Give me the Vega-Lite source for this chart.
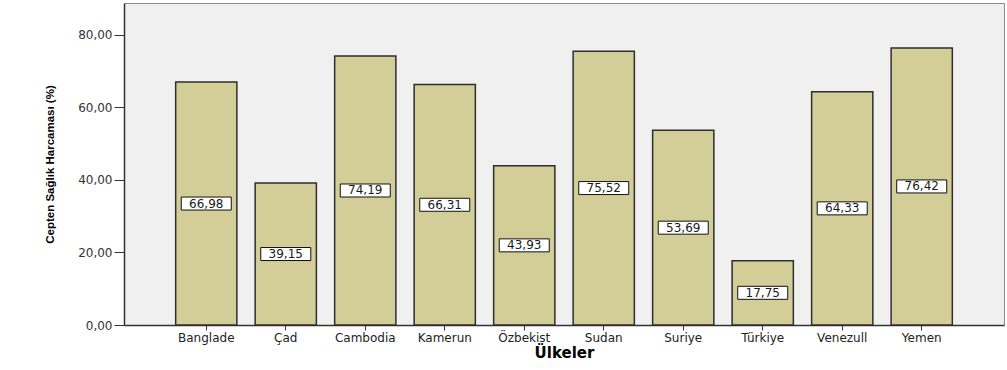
{
  "$schema": "https://vega.github.io/schema/vega-lite/v6.json",
  "width": 880,
  "height": 322,
  "autosize": "none",
  "padding": {"left": 124, "top": 3, "right": 3, "bottom": 45},
  "background": "white",
  "config": {
    "locale": {"number": {"decimal": ",", "thousands": ".", "grouping": [3], "currency": ["", " TL"]}},
    "view": {"fill": "#F0F0F0", "stroke": "#8c8c8c", "strokeWidth": 1}
  },
  "data": {
    "values": [
      {"country": "Banglade", "value": 66.98},
      {"country": "Çad", "value": 39.15},
      {"country": "Cambodia", "value": 74.19},
      {"country": "Kamerun", "value": 66.31},
      {"country": "Özbekist", "value": 43.93},
      {"country": "Sudan", "value": 75.52},
      {"country": "Suriye", "value": 53.69},
      {"country": "Türkiye", "value": 17.75},
      {"country": "Venezull", "value": 64.33},
      {"country": "Yemen", "value": 76.42}
    ]
  },
  "encoding": {
    "x": {
      "field": "country",
      "type": "nominal",
      "sort": null,
      "scale": {"paddingInner": 0.23, "paddingOuter": 0.65},
      "axis": {
        "title": "Ülkeler",
        "labelAngle": 0,
        "labelFont": "DejaVu Sans",
        "labelFontSize": 12,
        "labelColor": "#222222",
        "labelPadding": 2,
        "tickSize": 5,
        "tickColor": "#333333",
        "domainColor": "#333333",
        "domainWidth": 1.5,
        "titleFont": "DejaVu Sans",
        "titleFontSize": 15,
        "titleFontWeight": "bold",
        "titleColor": "#000000",
        "titlePadding": 2
      }
    }
  },
  "layer": [
    {
      "mark": {"type": "bar", "fill": "#D3CE97", "stroke": "#2e2e2e", "strokeWidth": 1.5},
      "encoding": {
        "y": {
          "field": "value",
          "type": "quantitative",
          "scale": {"domain": [0, 88.8], "nice": false},
          "axis": {
            "values": [0, 20, 40, 60, 80],
            "format": ".2f",
            "grid": false,
            "labelFont": "DejaVu Sans",
            "labelFontSize": 12,
            "labelColor": "#333333",
            "labelPadding": 2,
            "tickSize": 10,
            "tickColor": "#333333",
            "domainColor": "#333333",
            "domainWidth": 1.5,
            "title": "Cepten Sağlık Harcaması (%)",
            "titleFont": "Liberation Sans",
            "titleFontSize": 11.5,
            "titleFontWeight": "bold",
            "titleColor": "#000000",
            "titlePadding": 22
          }
        }
      }
    },
    {
      "encoding": {
        "y": {
          "field": "value",
          "type": "quantitative",
          "scale": {"domain": [0, 177.6], "nice": false},
          "axis": null
        }
      },
      "layer": [
        {
          "mark": {
            "type": "point",
            "shape": "M-1,-0.26H1V0.26H-1Z",
            "size": 2500,
            "filled": true,
            "fill": "white",
            "stroke": "#111111",
            "strokeWidth": 1,
            "opacity": 1
          }
        },
        {
          "mark": {"type": "text", "font": "DejaVu Sans", "fontSize": 12, "color": "#1a1a1a", "baseline": "middle", "align": "center"},
          "encoding": {"text": {"field": "value", "type": "quantitative", "format": ".2f"}}
        }
      ]
    }
  ],
  "resolve": {"scale": {"y": "independent"}}
}
